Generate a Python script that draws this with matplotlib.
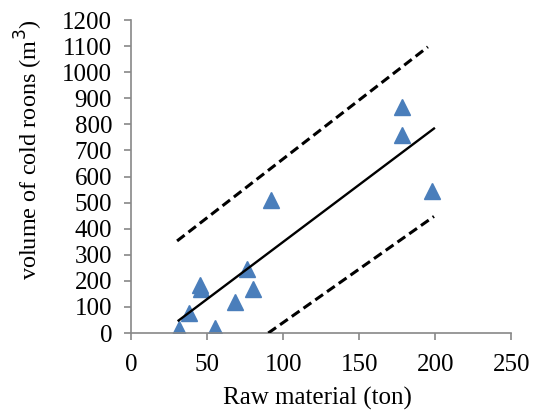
import matplotlib
matplotlib.use("Agg")
import matplotlib.pyplot as plt

plt.rcParams['font.family'] = ['Liberation Serif', 'DejaVu Serif']

# measured points
raw_material = [31, 38, 45, 46, 55, 68, 76, 80, 92, 178, 178, 198]
volume = [15, 75, 185, 170, 20, 120, 245, 170, 510, 865, 760, 545]

# trend line and bounds (end points)
fit_x = [31, 199]
fit_y = [48, 784]
upper_x = [30, 195]
upper_y = [353, 1097]
lower_x = [90, 199]
lower_y = [0, 447]

xticks = [0, 50, 100, 150, 200, 250]
yticks = list(range(0, 1300, 100))

fig = plt.figure(figsize=(5.42, 4.17), dpi=100)
ax = fig.add_axes([0.2426, 0.2014, 0.7011, 0.7506])

ax.plot(raw_material, volume, linestyle='none', marker='^', markersize=11,
        color='#4A7EBB', zorder=2)
ax.plot(fit_x, fit_y, color='black', linewidth=1.7, zorder=3)
ax.plot(upper_x, upper_y, color='black', linewidth=2.2, dashes=(3.1, 1.6), zorder=3)
ax.plot(lower_x, lower_y, color='black', linewidth=2.2, dashes=(3.1, 1.6), zorder=3)

ax.set_xlim(0, 250)
ax.set_ylim(0, 1200)
ax.set_xticks(xticks)
ax.set_yticks(yticks)

for s in ['top', 'right']:
    ax.spines[s].set_visible(False)
for s in ['left', 'bottom']:
    ax.spines[s].set_color('#888888')
    ax.spines[s].set_linewidth(1.2)
ax.tick_params(direction='out', length=5, width=1.2, color='#888888',
               labelsize=18)
ax.tick_params(axis='x', pad=10)
ax.tick_params(axis='y', pad=9)

ax.set_xlabel('Raw material (ton)', fontsize=18, va='center')
ax.set_ylabel('volume of cold roons (m$^3$)', fontsize=17.5, va='center')
ax.xaxis.set_label_coords(0.489, -0.208)
ax.yaxis.set_label_coords(-0.27, 0.585)

fig.savefig('out.png', dpi=100)
